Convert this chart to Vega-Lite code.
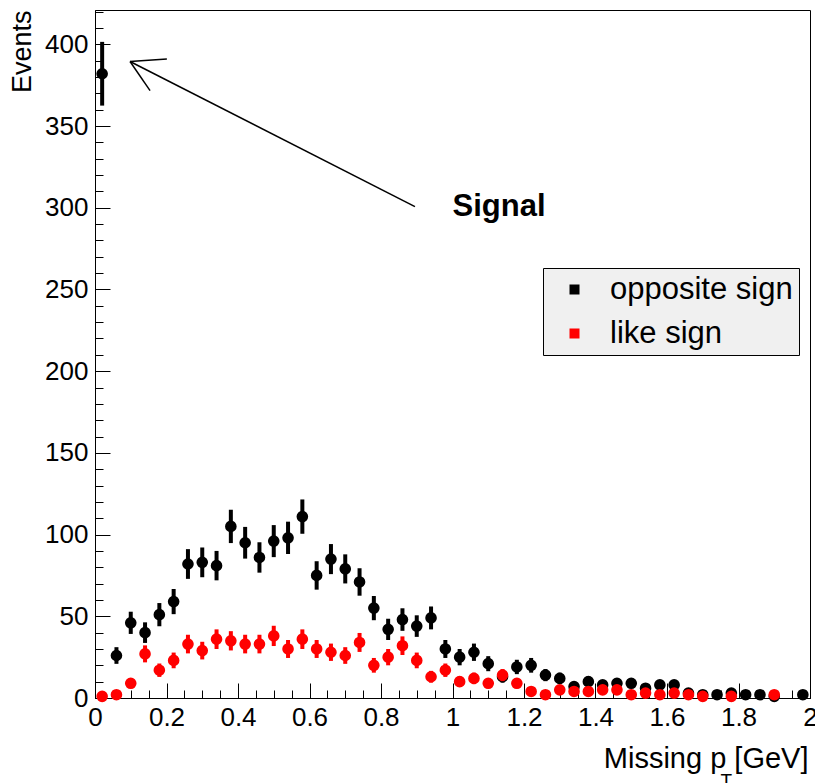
{
  "$schema": "https://vega.github.io/schema/vega-lite/v6.json",
  "autosize": "none",
  "width": 715,
  "height": 688,
  "padding": {"left": 95, "top": 10, "right": 5, "bottom": 85},
  "background": "white",
  "config": {
    "view": {"stroke": "#000000", "strokeWidth": 1},
    "font": "Liberation Sans",
    "axis": {"grid": false, "domainColor": "#000000", "tickColor": "#000000", "labelColor": "#000000", "titleColor": "#000000", "labelFont": "Liberation Sans", "titleFont": "Liberation Sans", "titleFontWeight": "normal", "labelFlush": false, "labelOverlap": false}
  },
  "datasets": {
    "hist": [
      {"x":0.02,"y":382,"err":19.5,"series":"opposite sign"},
      {"x":0.06,"y":26,"err":5.1,"series":"opposite sign"},
      {"x":0.10,"y":46,"err":6.8,"series":"opposite sign"},
      {"x":0.14,"y":40,"err":6.3,"series":"opposite sign"},
      {"x":0.18,"y":51,"err":7.1,"series":"opposite sign"},
      {"x":0.22,"y":59,"err":7.7,"series":"opposite sign"},
      {"x":0.26,"y":82,"err":9.1,"series":"opposite sign"},
      {"x":0.30,"y":83,"err":9.1,"series":"opposite sign"},
      {"x":0.34,"y":81,"err":9.0,"series":"opposite sign"},
      {"x":0.38,"y":105,"err":10.2,"series":"opposite sign"},
      {"x":0.42,"y":95,"err":9.7,"series":"opposite sign"},
      {"x":0.46,"y":86,"err":9.3,"series":"opposite sign"},
      {"x":0.50,"y":96,"err":9.8,"series":"opposite sign"},
      {"x":0.54,"y":98,"err":9.9,"series":"opposite sign"},
      {"x":0.58,"y":111,"err":10.5,"series":"opposite sign"},
      {"x":0.62,"y":75,"err":8.7,"series":"opposite sign"},
      {"x":0.66,"y":85,"err":9.2,"series":"opposite sign"},
      {"x":0.70,"y":79,"err":8.9,"series":"opposite sign"},
      {"x":0.74,"y":71,"err":8.4,"series":"opposite sign"},
      {"x":0.78,"y":55,"err":7.4,"series":"opposite sign"},
      {"x":0.82,"y":42,"err":6.5,"series":"opposite sign"},
      {"x":0.86,"y":48,"err":6.9,"series":"opposite sign"},
      {"x":0.90,"y":44,"err":6.6,"series":"opposite sign"},
      {"x":0.94,"y":49,"err":7.0,"series":"opposite sign"},
      {"x":0.98,"y":30,"err":5.5,"series":"opposite sign"},
      {"x":1.02,"y":25,"err":5.0,"series":"opposite sign"},
      {"x":1.06,"y":28,"err":5.3,"series":"opposite sign"},
      {"x":1.10,"y":21,"err":4.6,"series":"opposite sign"},
      {"x":1.14,"y":13,"err":3.6,"series":"opposite sign"},
      {"x":1.18,"y":19,"err":4.4,"series":"opposite sign"},
      {"x":1.22,"y":20,"err":4.5,"series":"opposite sign"},
      {"x":1.26,"y":14,"err":3.7,"series":"opposite sign"},
      {"x":1.30,"y":12,"err":3.5,"series":"opposite sign"},
      {"x":1.34,"y":7,"err":2.6,"series":"opposite sign"},
      {"x":1.38,"y":10,"err":3.2,"series":"opposite sign"},
      {"x":1.42,"y":8,"err":2.8,"series":"opposite sign"},
      {"x":1.46,"y":9,"err":3.0,"series":"opposite sign"},
      {"x":1.50,"y":9,"err":3.0,"series":"opposite sign"},
      {"x":1.54,"y":6,"err":2.4,"series":"opposite sign"},
      {"x":1.58,"y":8,"err":2.8,"series":"opposite sign"},
      {"x":1.62,"y":8,"err":2.8,"series":"opposite sign"},
      {"x":1.66,"y":3,"err":1.7,"series":"opposite sign"},
      {"x":1.70,"y":2,"err":1.4,"series":"opposite sign"},
      {"x":1.74,"y":2,"err":1.4,"series":"opposite sign"},
      {"x":1.78,"y":3,"err":1.7,"series":"opposite sign"},
      {"x":1.82,"y":2,"err":1.4,"series":"opposite sign"},
      {"x":1.86,"y":2,"err":1.4,"series":"opposite sign"},
      {"x":1.90,"y":1,"err":1.0,"series":"opposite sign"},
      {"x":1.98,"y":2,"err":1.4,"series":"opposite sign"},
      {"x":0.02,"y":1,"err":1.0,"series":"like sign"},
      {"x":0.06,"y":2,"err":1.4,"series":"like sign"},
      {"x":0.10,"y":9,"err":3.0,"series":"like sign"},
      {"x":0.14,"y":27,"err":5.2,"series":"like sign"},
      {"x":0.18,"y":17,"err":4.1,"series":"like sign"},
      {"x":0.22,"y":23,"err":4.8,"series":"like sign"},
      {"x":0.26,"y":33,"err":5.7,"series":"like sign"},
      {"x":0.30,"y":29,"err":5.4,"series":"like sign"},
      {"x":0.34,"y":36,"err":6.0,"series":"like sign"},
      {"x":0.38,"y":35,"err":5.9,"series":"like sign"},
      {"x":0.42,"y":33,"err":5.7,"series":"like sign"},
      {"x":0.46,"y":33,"err":5.7,"series":"like sign"},
      {"x":0.50,"y":38,"err":6.2,"series":"like sign"},
      {"x":0.54,"y":30,"err":5.5,"series":"like sign"},
      {"x":0.58,"y":36,"err":6.0,"series":"like sign"},
      {"x":0.62,"y":30,"err":5.5,"series":"like sign"},
      {"x":0.66,"y":28,"err":5.3,"series":"like sign"},
      {"x":0.70,"y":26,"err":5.1,"series":"like sign"},
      {"x":0.74,"y":34,"err":5.8,"series":"like sign"},
      {"x":0.78,"y":20,"err":4.5,"series":"like sign"},
      {"x":0.82,"y":25,"err":5.0,"series":"like sign"},
      {"x":0.86,"y":32,"err":5.7,"series":"like sign"},
      {"x":0.90,"y":23,"err":4.8,"series":"like sign"},
      {"x":0.94,"y":13,"err":3.6,"series":"like sign"},
      {"x":0.98,"y":17,"err":4.1,"series":"like sign"},
      {"x":1.02,"y":10,"err":3.2,"series":"like sign"},
      {"x":1.06,"y":12,"err":3.5,"series":"like sign"},
      {"x":1.10,"y":9,"err":3.0,"series":"like sign"},
      {"x":1.14,"y":14,"err":3.7,"series":"like sign"},
      {"x":1.18,"y":9,"err":3.0,"series":"like sign"},
      {"x":1.22,"y":4,"err":2.0,"series":"like sign"},
      {"x":1.26,"y":2,"err":1.4,"series":"like sign"},
      {"x":1.30,"y":5,"err":2.2,"series":"like sign"},
      {"x":1.34,"y":4,"err":2.0,"series":"like sign"},
      {"x":1.38,"y":4,"err":2.0,"series":"like sign"},
      {"x":1.42,"y":5,"err":2.2,"series":"like sign"},
      {"x":1.46,"y":5,"err":2.2,"series":"like sign"},
      {"x":1.50,"y":2,"err":1.4,"series":"like sign"},
      {"x":1.54,"y":3,"err":1.7,"series":"like sign"},
      {"x":1.58,"y":2,"err":1.4,"series":"like sign"},
      {"x":1.62,"y":3,"err":1.7,"series":"like sign"},
      {"x":1.66,"y":2,"err":1.4,"series":"like sign"},
      {"x":1.70,"y":1,"err":1.0,"series":"like sign"},
      {"x":1.78,"y":1,"err":1.0,"series":"like sign"},
      {"x":1.90,"y":2,"err":1.4,"series":"like sign"}
    ],
    "arrow": [
      {"x":0.895,"y":300.7,"x2":0.098,"y2":389.5},
      {"x":0.098,"y":389.5,"x2":0.201,"y2":391.0},
      {"x":0.098,"y":389.5,"x2":0.154,"y2":371.7}
    ],
    "notes": [
      {"x":1.0,"y":300.7,"text":"Signal"}
    ],
    "sub": [
      {"x":1.766,"y":-51,"text":"T"}
    ]
  },
  "resolve": {"axis": {"x": "independent", "y": "independent"}},
  "layer": [
    {
      "data": {"name": "hist"},
      "transform": [{"filter": "datum.series === 'opposite sign'"}],
      "mark": {"type": "errorbar", "color": "#000000", "thickness": 4, "ticks": false},
      "encoding": {
        "x": {"field": "x", "type": "quantitative", "scale": {"domain": [0, 2], "nice": false, "zero": false}, "axis": null},
        "y": {"field": "y", "type": "quantitative", "scale": {"domain": [0, 421], "nice": false, "zero": false}, "axis": null},
        "yError": {"field": "err"}
      }
    },
    {
      "data": {"name": "hist"},
      "transform": [{"filter": "datum.series === 'opposite sign'"}],
      "mark": {"type": "point", "shape": "circle", "filled": true, "size": 135, "opacity": 1, "strokeWidth": 0},
      "encoding": {
        "x": {"field": "x", "type": "quantitative", "scale": {"domain": [0, 2], "nice": false, "zero": false},
          "axis": {"orient": "bottom", "values": [0, 0.2, 0.4, 0.6, 0.8, 1, 1.2, 1.4, 1.6, 1.8, 2], "format": "~g", "tickSize": -15, "labelPadding": 21, "labelFontSize": 26, "domain": true, "title": "Missing p [GeV]", "titleFontSize": 29, "titleX": 713, "titleY": 60, "titleAlign": "right", "titleBaseline": "middle", "titleAnchor": "end"}},
        "y": {"field": "y", "type": "quantitative", "scale": {"domain": [0, 421], "nice": false, "zero": false},
          "axis": {"orient": "left", "values": [0, 50, 100, 150, 200, 250, 300, 350, 400], "tickSize": -15, "labelPadding": 22, "labelFontSize": 26, "domain": true, "title": "Events", "titleFontSize": 27, "titleX": -73, "titleY": 0, "titleAngle": 270, "titleAlign": "right", "titleBaseline": "middle", "titleAnchor": "end"}},
        "color": {"field": "series", "type": "nominal",
          "scale": {"domain": ["opposite sign", "like sign"], "range": ["#000000", "#ff0000"]},
          "legend": {"orient": "none", "legendX": 448, "legendY": 258, "title": null, "fillColor": "#f0f0f0", "strokeColor": "#000000", "padding": 6, "symbolType": "square", "symbolSize": 100, "symbolStrokeWidth": 0, "symbolOffset": 10, "labelOffset": 20, "labelFontSize": 31, "labelFont": "Liberation Sans", "labelColor": "#000000", "rowPadding": 12, "labelLimit": 400, "labelExpr": "datum.label + ' '"}}
      }
    },
    {
      "data": {"name": "hist"},
      "transform": [{"filter": "datum.series === 'like sign'"}],
      "mark": {"type": "errorbar", "color": "#ff0000", "thickness": 4, "ticks": false},
      "encoding": {
        "x": {"field": "x", "type": "quantitative", "axis": null},
        "y": {"field": "y", "type": "quantitative", "axis": null},
        "yError": {"field": "err"}
      }
    },
    {
      "data": {"name": "hist"},
      "transform": [{"filter": "datum.series === 'like sign'"}],
      "mark": {"type": "point", "shape": "circle", "filled": true, "size": 135, "opacity": 1, "strokeWidth": 0},
      "encoding": {
        "x": {"field": "x", "type": "quantitative", "axis": null},
        "y": {"field": "y", "type": "quantitative", "axis": null},
        "color": {"field": "series", "type": "nominal"}
      }
    },
    {
      "data": {"name": "hist"},
      "mark": {"type": "point", "opacity": 0},
      "encoding": {
        "x": {"field": "x", "type": "quantitative",
          "axis": {"orient": "bottom", "values": [0,0.05,0.1,0.15,0.2,0.25,0.3,0.35,0.4,0.45,0.5,0.55,0.6,0.65,0.7,0.75,0.8,0.85,0.9,0.95,1,1.05,1.1,1.15,1.2,1.25,1.3,1.35,1.4,1.45,1.5,1.55,1.6,1.65,1.7,1.75,1.8,1.85,1.9,1.95,2], "tickSize": -8, "labels": false, "domain": false, "title": null}},
        "y": {"field": "y", "type": "quantitative",
          "axis": {"orient": "left", "values": [0,10,20,30,40,50,60,70,80,90,100,110,120,130,140,150,160,170,180,190,200,210,220,230,240,250,260,270,280,290,300,310,320,330,340,350,360,370,380,390,400,410,420], "tickSize": -8, "labels": false, "domain": false, "title": null}}
      }
    },
    {
      "data": {"name": "arrow"},
      "mark": {"type": "rule", "color": "#000000", "strokeWidth": 1.5},
      "encoding": {
        "x": {"field": "x", "type": "quantitative", "axis": null},
        "y": {"field": "y", "type": "quantitative", "axis": null},
        "x2": {"field": "x2"},
        "y2": {"field": "y2"}
      }
    },
    {
      "data": {"name": "notes"},
      "mark": {"type": "text", "align": "left", "baseline": "middle", "fontSize": 31, "fontWeight": "bold", "font": "Liberation Sans", "color": "#000000"},
      "encoding": {
        "x": {"field": "x", "type": "quantitative", "axis": null},
        "y": {"field": "y", "type": "quantitative", "axis": null},
        "text": {"field": "text"}
      }
    },
    {
      "data": {"name": "sub"},
      "mark": {"type": "text", "align": "center", "baseline": "middle", "fontSize": 19, "font": "Liberation Sans", "color": "#000000"},
      "encoding": {
        "x": {"field": "x", "type": "quantitative", "axis": null},
        "y": {"field": "y", "type": "quantitative", "axis": null},
        "text": {"field": "text"}
      }
    }
  ]
}
